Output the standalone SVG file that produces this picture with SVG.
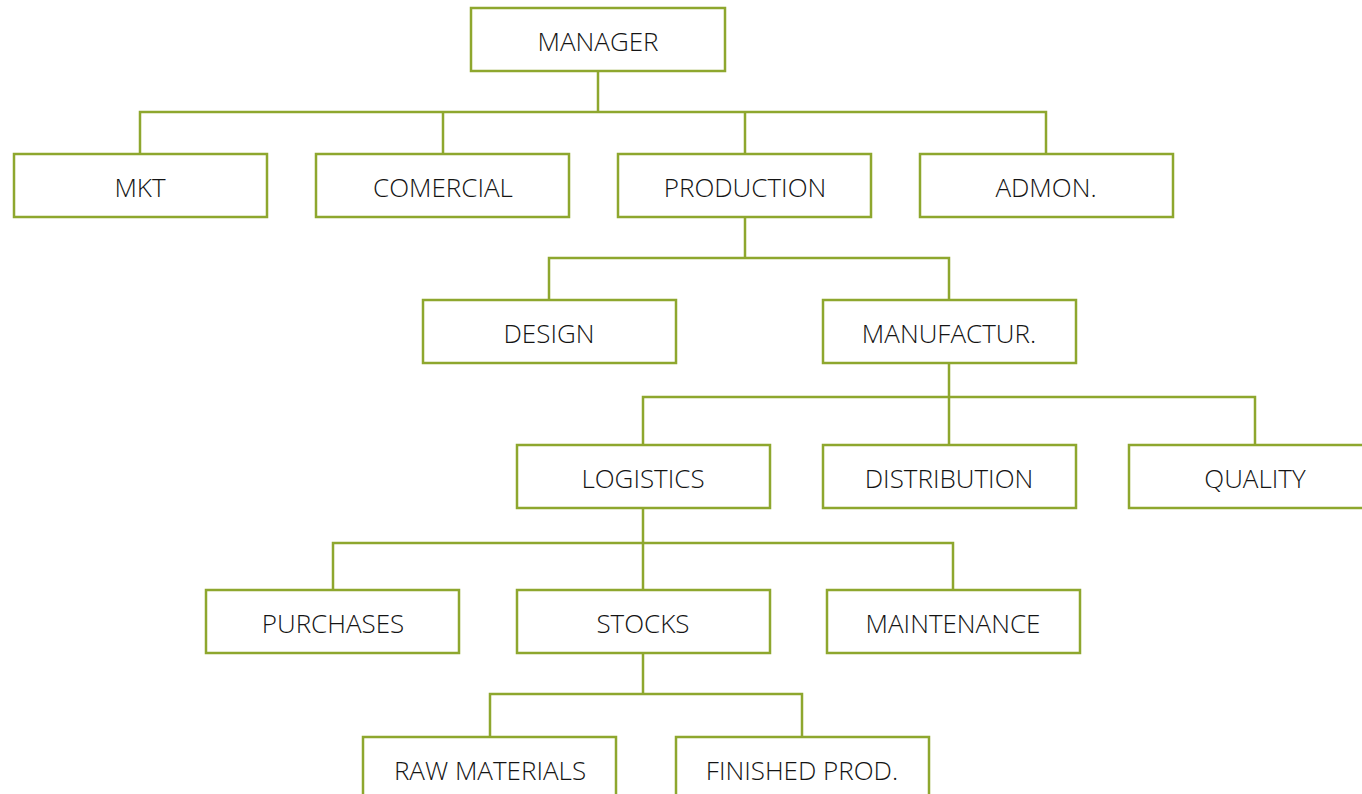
<svg xmlns="http://www.w3.org/2000/svg" width="1362" height="794" viewBox="0 0 1362 794">
<style>
.n rect{fill:#fff;stroke:#8ea72e;stroke-width:2.5}
.n text{font-family:"Open Sans","Liberation Sans",sans-serif;font-weight:300;font-size:26px;fill:#141414;text-anchor:middle;dominant-baseline:central}
#c path{fill:none;stroke:#8ea72e;stroke-width:2.5}
</style>
<rect width="1362" height="794" fill="#fff"/>
<g id="c">
<path d="M598 71V112M140 154V112H1046V154M443 112V154M745 112V154"/>
<path d="M745 217V258M549 300V258H949V300"/>
<path d="M949 363V397M643 445V397H1255V445M949 397V445"/>
<path d="M643 508V543M333 590V543H953V590M643 543V590"/>
<path d="M643 653V694M490 737V694H802V737"/>
</g>
<g id="manager" class="n"><rect x="471" y="8" width="254" height="63"/><text x="598" y="41">MANAGER</text></g>
<g id="mkt" class="n"><rect x="14" y="154" width="253" height="63"/><text x="140" y="187">MKT</text></g>
<g id="comercial" class="n"><rect x="316" y="154" width="253" height="63"/><text x="443" y="187">COMERCIAL</text></g>
<g id="production" class="n"><rect x="618" y="154" width="253" height="63"/><text x="745" y="187">PRODUCTION</text></g>
<g id="admon" class="n"><rect x="920" y="154" width="253" height="63"/><text x="1046" y="187">ADMON.</text></g>
<g id="design" class="n"><rect x="423" y="300" width="253" height="63"/><text x="549" y="333">DESIGN</text></g>
<g id="manufactur" class="n"><rect x="823" y="300" width="253" height="63"/><text x="949" y="333">MANUFACTUR.</text></g>
<g id="logistics" class="n"><rect x="517" y="445" width="253" height="63"/><text x="643" y="478">LOGISTICS</text></g>
<g id="distribution" class="n"><rect x="823" y="445" width="253" height="63"/><text x="949" y="478">DISTRIBUTION</text></g>
<g id="quality" class="n"><rect x="1129" y="445" width="253" height="63"/><text x="1255" y="478">QUALITY</text></g>
<g id="purchases" class="n"><rect x="206" y="590" width="253" height="63"/><text x="333" y="623">PURCHASES</text></g>
<g id="stocks" class="n"><rect x="517" y="590" width="253" height="63"/><text x="643" y="623">STOCKS</text></g>
<g id="maintenance" class="n"><rect x="827" y="590" width="253" height="63"/><text x="953" y="623">MAINTENANCE</text></g>
<g id="raw" class="n"><rect x="363" y="737" width="253" height="63"/><text x="490" y="770">RAW MATERIALS</text></g>
<g id="finished" class="n"><rect x="676" y="737" width="253" height="63"/><text x="802" y="770">FINISHED PROD.</text></g>
</svg>
